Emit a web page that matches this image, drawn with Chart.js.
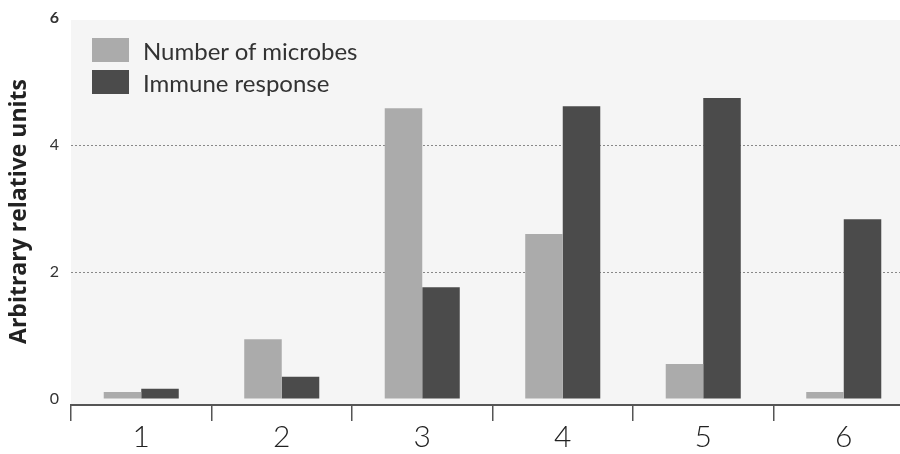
<!DOCTYPE html>
<html lang="en">
<head>
    <meta charset="UTF-8">
    <title>Microbes and immune response</title>
    <script src="https://cdn.jsdelivr.net/npm/chart.js"></script>
    <style>
        body { margin: 0; background: #fff; overflow: hidden; width: 900px; height: 454px; position: relative; font-family: Lato, "Open Sans", sans-serif; }
        #legend { position: absolute; left: 92px; top: 34px; }
        .item { display: flex; align-items: center; height: 32px; font-size: 24px; color: #333; }
        .sw { width: 37px; height: 24px; margin-right: 14px; }
    </style>
</head>
<body>
    <canvas id="chart" width="916" height="454"></canvas>
    <div id="legend"></div>

    <script>
        // data
        const stages = ["1", "2", "3", "4", "5", "6"];
        const seriesNames = ["Number of microbes", "Immune response"];
        const microbes = [0.11, 0.94, 4.58, 2.6, 0.55, 0.11];
        const immune = [0.16, 0.35, 1.76, 4.61, 4.74, 2.83];
        const yTicks = [0, 2, 4, 6];
        const colors = ["#ababab", "#4b4b4b"];

        // legend in html
        const legend = document.getElementById("legend");
        seriesNames.forEach((name, i) => {
            const row = document.createElement("div");
            row.className = "item";
            row.innerHTML = `<span class="sw" style="background:${colors[i]}"></span>${name}`;
            legend.appendChild(row);
        });

        // grey panel behind the bars
        const panel = {
            id: "panel",
            beforeDraw(chart) {
                const a = chart.chartArea;
                const c = chart.ctx;
                c.save();
                c.fillStyle = "#f5f5f5";
                c.fillRect(a.left, a.top + 2, a.right - a.left, a.bottom - a.top - 2);
                c.restore();
            }
        };

        new Chart(document.getElementById("chart"), {
            type: "bar",
            data: {
                labels: stages,
                datasets: [
                    { label: seriesNames[0], data: microbes, backgroundColor: colors[0] },
                    { label: seriesNames[1], data: immune, backgroundColor: colors[1] }
                ]
            },
            plugins: [panel],
            options: {
                responsive: false,
                animation: false,
                layout: { padding: { top: 18, right: 2, left: 0, bottom: 0 } },
                datasets: { bar: { categoryPercentage: 0.534, barPercentage: 1 } },
                plugins: { legend: { display: false }, tooltip: { enabled: false } },
                scales: {
                    x: {
                        afterFit(scale) { scale.height = 49; },
                        border: { color: "#555", width: 2 },
                        grid: { drawOnChartArea: false, offset: true, tickLength: 16, color: "#555", lineWidth: 1.5 },
                        ticks: { color: "#222", padding: -2, font: { family: "Lato", size: 30, weight: 300 } }
                    },
                    y: {
                        min: -0.094,
                        max: 6,
                        afterFit(scale) { scale.width = 71; scale.paddingTop = 0; scale.paddingBottom = 0; },
                        afterBuildTicks(scale) { scale.ticks = yTicks.map(v => ({ value: v })); },
                        border: { display: false, dash: [2, 2] },
                        grid: {
                            drawTicks: false,
                            color: ctx => (ctx.tick && (ctx.tick.value === 2 || ctx.tick.value === 4)) ? "#888" : "rgba(0,0,0,0)"
                        },
                        ticks: {
                            color: "#333",
                            padding: 12,
                            font: ctx => ({ family: "Lato", size: 16, weight: ctx.tick && ctx.tick.value === 6 ? "bold" : "normal" })
                        },
                        title: {
                            display: true,
                            text: "Arbitrary relative units",
                            color: "#222",
                            padding: { top: 6, bottom: 0 },
                            font: { family: "Open Sans", size: 23, weight: "bold" }
                        }
                    }
                }
            }
        });
    </script>
</body>
</html>
